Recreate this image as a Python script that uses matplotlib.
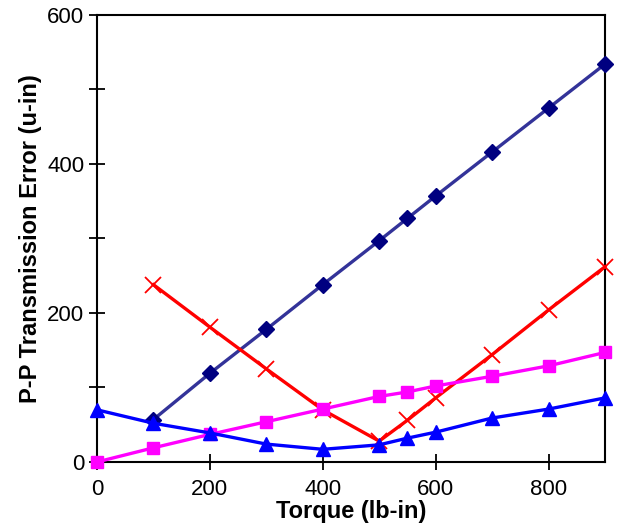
import numpy as np
import matplotlib.pyplot as plt
from matplotlib.ticker import MultipleLocator

plt.rcParams['font.family'] = ['Liberation Sans', 'DejaVu Sans']

# torque (lb-in)
torque_a = [100, 200, 300, 400, 500, 550, 600, 700, 800, 900]
torque_b = [0, 100, 200, 300, 400, 500, 550, 600, 700, 800, 900]

# P-P transmission error (u-in)
diamond_vals = [57, 119, 178, 238, 297, 327, 357, 416, 475, 534]
cross_vals = [238, 181, 125, 70, 28, 56, 86, 144, 204, 262]
square_vals = [0, 19, 37, 54, 71, 88, 94, 102, 115, 129, 147]
triangle_vals = [70, 52, 39, 24, 17, 23, 32, 40, 59, 71, 86]

fig = plt.figure(figsize=(6.31, 5.29), dpi=100)
ax = fig.add_axes([0.1537, 0.1267, 0.805, 0.845])

ax.plot(torque_a, diamond_vals, color='#333399', lw=2.4, marker='D', ms=8,
        mfc='#000080', mec='#000080', clip_on=False, zorder=3)
ax.plot(torque_a, cross_vals, color='#FF0000', lw=2.4, marker='x', ms=12,
        mew=1.3, clip_on=False, zorder=3)
ax.plot(torque_b, square_vals, color='#FF00FF', lw=2.4, marker='s', ms=9,
        clip_on=False, zorder=3)
ax.plot(torque_b, triangle_vals, color='#0000FF', lw=2.4, marker='^', ms=10,
        clip_on=False, zorder=3)

ax.set_xlim(0, 900)
ax.set_ylim(0, 600)
ax.xaxis.set_major_locator(MultipleLocator(200))
ax.yaxis.set_major_locator(MultipleLocator(200))
ax.yaxis.set_minor_locator(MultipleLocator(100))
ax.tick_params(axis='both', which='both', direction='inout', length=11,
               width=1.3, labelsize=16, color='black')
ax.tick_params(axis='x', pad=7)
for sp in ax.spines.values():
    sp.set_linewidth(1.5)

ax.set_xlabel('Torque (lb-in)', fontsize=17, fontweight='bold', labelpad=0)
ax.set_ylabel('P-P Transmission Error (u-in)', fontsize=17, fontweight='bold',
              labelpad=4)

fig.savefig('out.png', dpi=100)
